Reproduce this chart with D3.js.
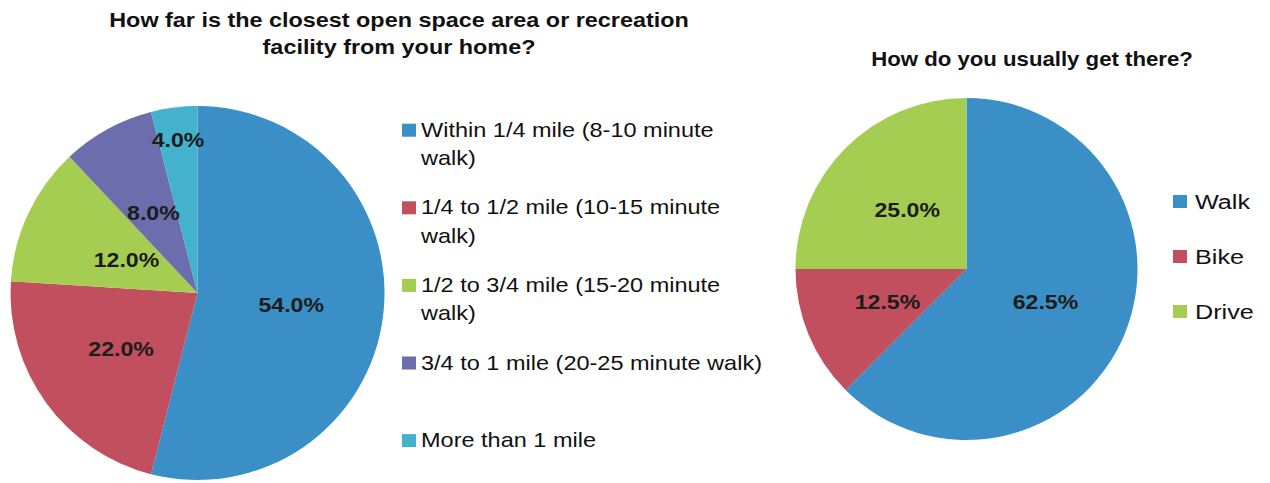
<!DOCTYPE html>
<html>
<head>
<meta charset="utf-8">
<script src="https://cdn.jsdelivr.net/npm/d3@7"></script>
<style>
  html, body { margin: 0; padding: 0; background: #ffffff; }
  svg { display: block; }
  text { font-family: "Liberation Sans", Arial, sans-serif; }
</style>
</head>
<body>
<svg id="chart" width="1270" height="483"></svg>
<script>
// ---------- data ----------
const distTitle = ["How far is the closest open space area or recreation", "facility from your home?"];
const distCategories = [
  "Within 1/4 mile (8-10 minute walk)",
  "1/4 to 1/2 mile (10-15 minute walk)",
  "1/2 to 3/4 mile (15-20 minute walk)",
  "3/4 to 1 mile (20-25 minute walk)",
  "More than 1 mile"
];
const distValues = [54.0, 22.0, 12.0, 8.0, 4.0];

const modeTitle = "How do you usually get there?";
const modeCategories = ["Walk", "Bike", "Drive"];
const modeValues = [62.5, 12.5, 25.0];

// ---------- styling ----------
const distColors = ["#3a8fc6", "#c14f5e", "#a5cd52", "#6b6dac", "#44b2cc"];
const modeColors = ["#3a8fc6", "#c14f5e", "#a5cd52"];
const labelColor = "#1c1c1c";

const svg = d3.select("#chart");

function addText(g, x, y, str, o) {
  const t = g.append("text")
    .attr("transform", `translate(${x},${y}) scale(${o.k || 1},1)`)
    .attr("text-anchor", o.anchor || "start")
    .attr("font-size", o.size)
    .attr("font-weight", o.weight || "normal")
    .attr("fill", o.fill || "#111")
    .text(str);
  return t;
}

function wrapLines(str, size, k, maxW) {
  const tmp = svg.append("text").attr("font-size", size);
  const words = str.split(" ");
  const lines = [];
  let cur = "";
  words.forEach(w => {
    const test = cur ? cur + " " + w : w;
    tmp.text(test);
    if (cur && tmp.node().getComputedTextLength() * k > maxW) {
      lines.push(cur);
      cur = w;
    } else cur = test;
  });
  if (cur) lines.push(cur);
  tmp.remove();
  return lines;
}

function drawPie(cfg) {
  const g = svg.append("g").attr("transform", `translate(${cfg.cx},${cfg.cy})`);
  const pie = d3.pie().sort(null).value(d => d.v);
  const arcs = pie(cfg.values.map((v, i) => ({ v, i })));
  const arc = d3.arc().innerRadius(0).outerRadius(cfg.r);
  g.selectAll("path.slice").data(arcs).join("path")
    .attr("class", "slice")
    .attr("d", arc)
    .attr("fill", d => cfg.colors[d.index]);
  arcs.forEach((d, i) => {
    const lr = cfg.r * cfg.labelR[i];
    const la = d3.arc().innerRadius(lr).outerRadius(lr);
    const [x, y] = la.centroid(d);
    addText(g, x, y + 7.5, d.value.toFixed(1) + "%", {
      size: 21, weight: "bold", anchor: "middle", k: 1.1, fill: labelColor
    });
  });
}

// ---------- left chart ----------
const gL = svg.append("g");
distTitle.forEach((line, i) => {
  addText(gL, 399, 27 + i * 27, line, { size: 20, weight: "bold", anchor: "middle", k: 1.17 });
});
drawPie({
  cx: 197.5, cy: 293, r: 187,
  values: distValues, colors: distColors,
  labelR: [0.505, 0.505, 0.42, 0.49, 0.83]
});
// legend
const legL = svg.append("g");
distCategories.forEach((c, i) => {
  const base = 136.7 + i * 77.6;
  legL.append("rect").attr("x", 402).attr("y", base - 13).attr("width", 14).attr("height", 13)
    .attr("fill", distColors[i]);
  const lines = wrapLines(c, 21, 1.12, 348);
  lines.forEach((ln, j) => {
    addText(legL, 421, base + j * 28.5, ln, { size: 21, k: 1.12, fill: "#111" });
  });
});

// ---------- right chart ----------
const gR = svg.append("g");
addText(gR, 1032, 66, modeTitle, { size: 20, weight: "bold", anchor: "middle", k: 1.11 });
drawPie({
  cx: 966.5, cy: 269, r: 171,
  values: modeValues, colors: modeColors,
  labelR: [0.5, 0.5, 0.49]
});
const legR = svg.append("g");
modeCategories.forEach((c, i) => {
  const base = 209 + i * 55;
  legR.append("rect").attr("x", 1173).attr("y", base - 14).attr("width", 14).attr("height", 13)
    .attr("fill", modeColors[i]);
  addText(legR, 1195, base, c, { size: 21, k: 1.2, fill: "#111" });
});
</script>
</body>
</html>
